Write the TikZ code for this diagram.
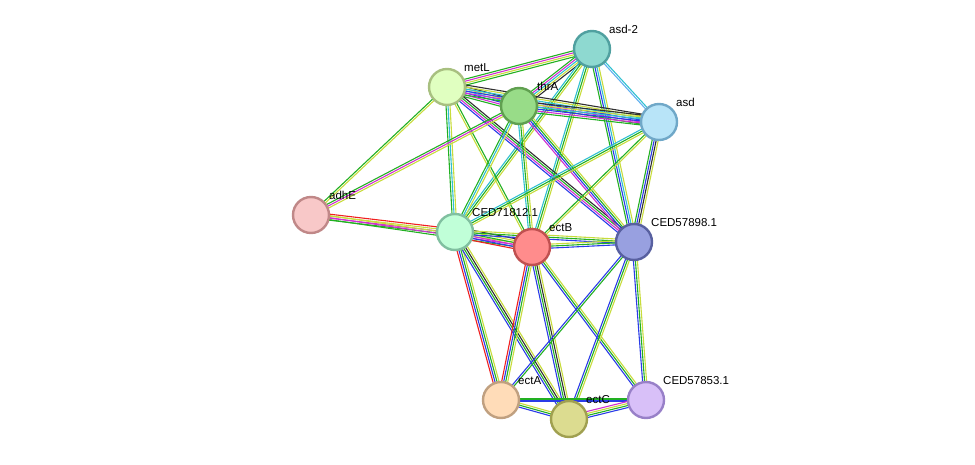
\documentclass[tikz,border=0pt]{standalone}
\usepackage{fontspec}
\setmainfont{Liberation Sans}
\usetikzlibrary{calc}
\definecolor{cG}{HTML}{22B022}
\definecolor{cY}{HTML}{C8DC3C}
\definecolor{cB}{HTML}{2A3CE8}
\definecolor{cC}{HTML}{30C0D0}
\definecolor{cM}{HTML}{D030D0}
\definecolor{cK}{HTML}{303030}
\definecolor{cR}{HTML}{F02020}
\definecolor{cL}{HTML}{60B0F0}
\newcommand\edge[4]{\foreach \c [count=\i] in {#4} {%
  \pgfmathsetmacro\o{(\i-(#3+1)/2)*2.0}%
  \draw[\c,line width=1.1pt] ($(#1)!\o pt!90:(#2)$) -- ($(#2)!\o pt!-90:(#1)$);}}
\tikzset{prot/.style={circle,minimum size=36pt,line width=2.4pt,inner sep=0pt},
 lab/.style={anchor=south west,inner sep=1pt,font=\fontsize{11.5}{13}\selectfont}}
\begin{document}
\begin{tikzpicture}[x=1pt,y=-1pt]
\useasboundingbox (0,0) rectangle (975,465);
\coordinate (asd2) at (592,49);
\coordinate (metL) at (447,87);
\coordinate (thrA) at (519,106);
\coordinate (asd) at (659,122);
\coordinate (adhE) at (311,215);
\coordinate (c718) at (455,232);
\coordinate (ectB) at (532,247);
\coordinate (c578) at (634,242);
\coordinate (ectA) at (501,400);
\coordinate (ectC) at (569,419);
\coordinate (c853) at (646,400);
\edge{asd2}{metL}{4}{cG,cM,cY,cG}
\edge{asd2}{thrA}{5}{cG,cM,cC,cY,cK}
\edge{asd2}{asd}{2}{cL,cC}
\edge{asd2}{c578}{4}{cG,cB,cC,cY}
\edge{asd2}{c718}{3}{cC,cG,cY}
\edge{asd2}{ectB}{3}{cC,cG,cY}
\edge{metL}{thrA}{6}{cG,cM,cB,cC,cY,cK}
\edge{metL}{asd}{6}{cG,cM,cB,cC,cY,cK}
\edge{metL}{adhE}{2}{cG,cY}
\edge{metL}{c718}{3}{cG,cC,cY}
\edge{metL}{ectB}{2}{cY,cG}
\edge{metL}{c578}{4}{cB,cM,cG,cK}
\edge{thrA}{asd}{6}{cG,cM,cB,cC,cY,cK}
\edge{thrA}{adhE}{3}{cG,cM,cY}
\edge{thrA}{c718}{3}{cG,cC,cY}
\edge{thrA}{ectB}{3}{cC,cG,cY}
\edge{thrA}{c578}{4}{cM,cB,cG,cY}
\edge{asd}{c578}{4}{cG,cB,cK,cY}
\edge{asd}{c718}{3}{cC,cG,cY}
\edge{asd}{ectB}{2}{cG,cY}
\edge{adhE}{c718}{4}{cG,cM,cY,cR}
\edge{adhE}{ectB}{3}{cG,cM,cY}
\edge{c718}{ectB}{6}{cR,cB,cM,cG,cY,cK}
\edge{c718}{c578}{3}{cB,cG,cY}
\edge{c718}{ectA}{4}{cR,cB,cG,cY}
\edge{c718}{ectC}{4}{cB,cG,cK,cY}
\edge{ectB}{c578}{3}{cB,cG,cY}
\edge{ectB}{ectA}{4}{cR,cB,cG,cY}
\edge{ectB}{ectC}{4}{cB,cG,cK,cY}
\edge{ectB}{c853}{3}{cB,cG,cY}
\edge{c578}{ectA}{2}{cB,cG}
\edge{c578}{ectC}{3}{cB,cG,cY}
\edge{c578}{c853}{3}{cB,cG,cY}
\edge{ectA}{ectC}{3}{cB,cG,cY}
\edge{ectA}{c853}{2}{cB,cG}
\edge{ectC}{c853}{4}{cB,cG,cY,cM}
\node[prot,fill={rgb,255:red,142;green,217;blue,208},draw={rgb,255:red,80;green,160;blue,160}] (n1) at (asd2) {};
\node[prot,fill={rgb,255:red,224;green,255;blue,192},draw={rgb,255:red,168;green,192;blue,128}] (n2) at (metL) {};
\node[prot,fill={rgb,255:red,152;green,220;blue,136},draw={rgb,255:red,96;green,160;blue,80}] (n3) at (thrA) {};
\node[prot,fill={rgb,255:red,184;green,228;blue,248},draw={rgb,255:red,112;green,168;blue,200}] (n4) at (asd) {};
\node[prot,fill={rgb,255:red,248;green,200;blue,200},draw={rgb,255:red,192;green,136;blue,136}] (n5) at (adhE) {};
\node[prot,fill={rgb,255:red,192;green,255;blue,216},draw={rgb,255:red,128;green,192;blue,160}] (n6) at (c718) {};
\node[prot,fill={rgb,255:red,255;green,140;blue,140},draw={rgb,255:red,192;green,80;blue,80}] (n7) at (ectB) {};
\node[prot,fill={rgb,255:red,152;green,160;blue,224},draw={rgb,255:red,88;green,96;blue,160}] (n8) at (c578) {};
\node[prot,fill={rgb,255:red,255;green,220;blue,184},draw={rgb,255:red,192;green,160;blue,128}] (n9) at (ectA) {};
\node[prot,fill={rgb,255:red,220;green,220;blue,144},draw={rgb,255:red,160;green,160;blue,80}] (n10) at (ectC) {};
\node[prot,fill={rgb,255:red,216;green,192;blue,248},draw={rgb,255:red,152;green,128;blue,200}] (n11) at (c853) {};
\node[lab] (l1) at ($(asd2)+(16,-14)$) {asd-2};
\node[lab] (l2) at ($(metL)+(16,-14)$) {metL};
\node[lab] (l3) at ($(thrA)+(17,-14)$) {thrA};
\node[lab] (l4) at ($(asd)+(16,-14)$) {asd};
\node[lab] (l5) at ($(adhE)+(17,-14)$) {adhE};
\node[lab] (l6) at ($(c718)+(16,-14)$) {CED71812.1};
\node[lab] (l7) at ($(ectB)+(16,-14)$) {ectB};
\node[lab] (l8) at ($(c578)+(16,-14)$) {CED57898.1};
\node[lab] (l9) at ($(ectA)+(16,-14)$) {ectA};
\node[lab] (l10) at ($(ectC)+(16,-14)$) {ectC};
\node[lab] (l11) at ($(c853)+(16,-14)$) {CED57853.1};
\end{tikzpicture}
\end{document}
